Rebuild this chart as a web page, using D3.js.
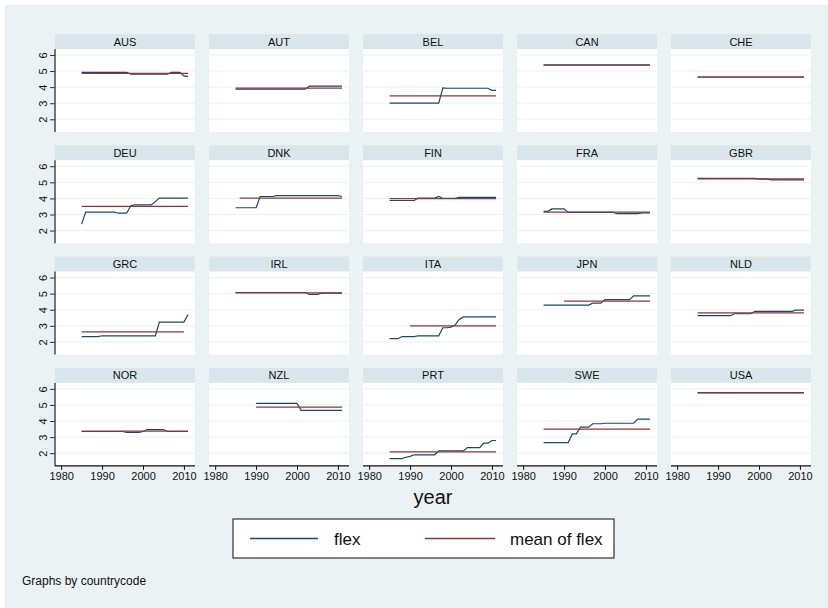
<!DOCTYPE html>
<html>
<head>
<meta charset="utf-8">
<script src="https://cdn.jsdelivr.net/npm/d3@7"></script>
<style>
  body { margin: 0; background: #fff; }
  svg { display: block; font-family: "Liberation Sans", Arial, sans-serif; }
</style>
</head>
<body>
<svg id="chart" width="828" height="608"></svg>
<script>
// countries in panel order
const countries = ["AUS", "AUT", "BEL", "CAN", "CHE",
                   "DEU", "DNK", "FIN", "FRA", "GBR",
                   "GRC", "IRL", "ITA", "JPN", "NLD",
                   "NOR", "NZL", "PRT", "SWE", "USA"];

// first year of each flex series (yearly values follow)
const flexStart = [1985, 1985, 1985, 1985, 1985,
                   1985, 1985, 1985, 1985, 1985,
                   1985, 1985, 1985, 1985, 1985,
                   1985, 1990, 1985, 1985, 1985];

const flexValues = [
  // AUS
  [4.92,4.92,4.92,4.92,4.92,4.92,4.92,4.92,4.92,4.92,4.92,4.92,4.81,4.81,4.81,4.81,4.81,4.81,4.81,4.81,4.81,4.81,4.92,4.92,4.92,4.70,4.65],
  // AUT
  [3.87,3.87,3.87,3.87,3.87,3.87,3.87,3.87,3.87,3.87,3.87,3.87,3.87,3.87,3.87,3.87,3.87,3.87,4.06,4.06,4.06,4.06,4.06,4.06,4.06,4.06,4.06],
  // BEL
  [3.00,3.00,3.00,3.00,3.00,3.00,3.00,3.00,3.00,3.00,3.00,3.00,3.00,3.95,3.93,3.93,3.93,3.93,3.93,3.93,3.93,3.93,3.93,3.93,3.93,3.80,3.80],
  // CAN
  [5.38,5.38,5.38,5.38,5.38,5.38,5.38,5.38,5.38,5.38,5.38,5.38,5.38,5.38,5.38,5.38,5.38,5.38,5.38,5.38,5.38,5.38,5.38,5.38,5.38,5.38,5.38],
  // CHE
  [4.63,4.63,4.63,4.63,4.63,4.63,4.63,4.63,4.63,4.63,4.63,4.63,4.63,4.63,4.63,4.63,4.63,4.63,4.63,4.63,4.63,4.63,4.63,4.63,4.63,4.63,4.63],
  // DEU
  [2.40,3.15,3.15,3.15,3.15,3.15,3.15,3.15,3.15,3.08,3.08,3.08,3.55,3.60,3.60,3.60,3.60,3.60,3.80,4.02,4.02,4.02,4.02,4.02,4.02,4.02,4.02],
  // DNK
  [3.42,3.42,3.42,3.42,3.42,3.42,4.12,4.12,4.12,4.12,4.17,4.17,4.17,4.17,4.17,4.17,4.17,4.17,4.17,4.17,4.17,4.17,4.17,4.17,4.17,4.17,4.12],
  // FIN
  [3.87,3.87,3.87,3.87,3.87,3.87,3.87,4.02,4.02,4.02,4.02,4.02,4.12,4.00,4.00,4.00,4.00,4.07,4.07,4.07,4.07,4.07,4.07,4.07,4.07,4.07,4.07],
  // FRA
  [3.20,3.20,3.35,3.35,3.35,3.35,3.13,3.13,3.13,3.13,3.13,3.13,3.13,3.13,3.13,3.13,3.13,3.13,3.05,3.05,3.05,3.05,3.05,3.05,3.10,3.10,3.10],
  // GBR
  [5.25,5.25,5.25,5.25,5.25,5.25,5.25,5.25,5.25,5.25,5.25,5.25,5.25,5.25,5.25,5.20,5.20,5.20,5.15,5.15,5.15,5.15,5.15,5.15,5.15,5.15,5.15],
  // GRC
  [2.33,2.33,2.33,2.33,2.33,2.38,2.38,2.38,2.38,2.38,2.38,2.38,2.38,2.38,2.38,2.38,2.38,2.38,2.38,3.23,3.23,3.23,3.23,3.23,3.23,3.23,3.70],
  // IRL
  [5.07,5.07,5.07,5.07,5.07,5.07,5.07,5.07,5.07,5.07,5.07,5.07,5.07,5.07,5.07,5.07,5.07,5.07,4.95,4.95,4.95,5.03,5.03,5.03,5.03,5.03,5.03],
  // ITA
  [2.20,2.20,2.20,2.33,2.33,2.33,2.33,2.38,2.38,2.38,2.38,2.38,2.38,2.88,2.88,2.92,3.05,3.40,3.55,3.55,3.55,3.55,3.55,3.55,3.55,3.55,3.55],
  // JPN
  [4.29,4.29,4.29,4.29,4.29,4.29,4.29,4.29,4.29,4.29,4.29,4.29,4.41,4.41,4.41,4.63,4.63,4.63,4.63,4.63,4.63,4.63,4.86,4.86,4.86,4.86,4.86],
  // NLD
  [3.63,3.63,3.63,3.63,3.63,3.63,3.63,3.63,3.63,3.75,3.75,3.75,3.75,3.75,3.90,3.90,3.90,3.90,3.90,3.90,3.90,3.90,3.90,3.90,3.97,3.97,3.97],
  // NOR
  [3.35,3.35,3.35,3.35,3.35,3.35,3.35,3.35,3.35,3.35,3.35,3.30,3.30,3.30,3.30,3.35,3.47,3.47,3.47,3.47,3.47,3.35,3.35,3.35,3.35,3.35,3.35],
  // NZL (from 1990)
  [5.10,5.10,5.10,5.10,5.10,5.10,5.10,5.10,5.10,5.10,5.10,4.66,4.66,4.66,4.66,4.66,4.66,4.66,4.66,4.66,4.66,4.66],
  // PRT
  [1.66,1.66,1.66,1.66,1.75,1.80,1.90,1.90,1.90,1.90,1.90,1.90,2.14,2.14,2.14,2.14,2.14,2.14,2.14,2.35,2.35,2.35,2.35,2.62,2.62,2.79,2.79],
  // SWE
  [2.66,2.66,2.66,2.66,2.66,2.66,2.66,3.20,3.20,3.62,3.62,3.62,3.83,3.83,3.83,3.86,3.86,3.86,3.86,3.86,3.86,3.86,3.86,4.12,4.12,4.12,4.12],
  // USA
  [5.76,5.76,5.76,5.76,5.76,5.76,5.76,5.76,5.76,5.76,5.76,5.76,5.76,5.76,5.76,5.76,5.76,5.76,5.76,5.76,5.76,5.76,5.76,5.76,5.76,5.76,5.76]
];

// mean of flex per country and the years it spans
const meanValues = [4.85, 3.94, 3.45, 5.36, 4.62,
                    3.50, 4.02, 3.99, 3.15, 5.22,
                    2.62, 5.05, 3.00, 4.54, 3.81,
                    3.37, 4.87, 2.08, 3.50, 5.75];
const meanStart = [1985, 1985, 1985, 1985, 1985,
                   1985, 1986, 1985, 1985, 1985,
                   1985, 1985, 1990, 1990, 1985,
                   1985, 1990, 1985, 1985, 1985];
const meanEnd = [2011, 2011, 2011, 2011, 2011,
                 2011, 2011, 2011, 2011, 2011,
                 2010, 2011, 2011, 2011, 2011,
                 2011, 2011, 2011, 2011, 2011];

const xTicks = [1980, 1990, 2000, 2010];
const yTicks = [2, 3, 4, 5, 6];

const svg = d3.select("#chart");
const bg = "#eaf2f3";
const flexColor = "#1a476f";
const meanColor = "#90353b";

svg.append("rect").attr("x", 5).attr("y", 5).attr("width", 823).attr("height", 603)
  .attr("fill", bg);

let cols = 5;
let pw = 140, ph = 83, stripH = 15;
let colStep = 154, rowStep = 111.3;
let left0 = 55, top0 = 34;

var x = d3.scaleLinear().domain([1978.5, 2012.7]).range([0, pw]);
var y = d3.scaleLinear().domain([1.21, 6.37]).range([ph, 0]);

var line = d3.line()
  .x(function (d) { return x(d[0]); })
  .y(function (d) { return y(d[1]); });

for (var i = 0; i < countries.length; i++) {
  let c = i % cols;
  let r = Math.floor(i / cols);
  let g = svg.append("g")
    .attr("transform", "translate(" + (left0 + c * colStep) + "," + (top0 + r * rowStep) + ")");

  // strip
  g.append("rect").attr("width", pw).attr("height", stripH).attr("fill", "#d9e6eb");
  g.append("text")
    .attr("x", pw / 2).attr("y", stripH / 2 + 4)
    .attr("text-anchor", "middle")
    .attr("font-size", 11)
    .attr("fill", "#111")
    .text(countries[i]);

  let p = g.append("g").attr("transform", "translate(0," + stripH + ")");
  p.append("rect").attr("width", pw).attr("height", ph).attr("fill", "#fff");

  p.selectAll("line.grid")
    .data(yTicks)
    .enter()
    .append("line")
    .attr("class", "grid")
    .attr("x1", 0).attr("x2", pw)
    .attr("y1", function (d) { return y(d); })
    .attr("y2", function (d) { return y(d); })
    .attr("stroke", bg)
    .attr("stroke-width", 1);

  // series
  let pts = [];
  for (var k = 0; k < flexValues[i].length; k++) {
    pts.push([flexStart[i] + k, flexValues[i][k]]);
  }
  let meanPts = [[meanStart[i], meanValues[i]], [meanEnd[i], meanValues[i]]];

  p.append("path").datum(pts).attr("d", line)
    .attr("fill", "none").attr("stroke", flexColor).attr("stroke-width", 1.2);
  p.append("path").datum(meanPts).attr("d", line)
    .attr("fill", "none").attr("stroke", meanColor).attr("stroke-width", 1.2);

  if (c === 0) {
    let ya = p.append("g")
      .call(d3.axisLeft(y).tickValues(yTicks).tickFormat(d3.format("d")).tickSize(5));
    ya.select(".domain").attr("stroke", "#555").attr("stroke-width", 1.6)
      .attr("d", "M0,0V" + ph);
    ya.selectAll(".tick line").attr("stroke", "#333");
    ya.selectAll(".tick text")
      .attr("font-size", 11).attr("font-family", "Liberation Sans, Arial, sans-serif")
      .attr("fill", "#111")
      .attr("transform", "rotate(-90)")
      .attr("x", 0).attr("y", -8)
      .attr("dy", "0")
      .attr("text-anchor", "middle");
  }
  if (r === 3) {
    let xa = p.append("g").attr("transform", "translate(0," + ph + ")")
      .call(d3.axisBottom(x).tickValues(xTicks).tickFormat(d3.format("d")).tickSize(4).tickPadding(2));
    xa.select(".domain").attr("stroke", "#111").attr("stroke-width", 1.4)
      .attr("d", "M0,0H" + pw);
    xa.selectAll(".tick line").attr("stroke", "#111");
    xa.selectAll(".tick text")
      .attr("font-size", 11).attr("font-family", "Liberation Sans, Arial, sans-serif")
      .attr("fill", "#111");
  }
}

// axis title
svg.append("text").attr("x", 433).attr("y", 504)
  .attr("text-anchor", "middle").attr("font-size", 20).attr("fill", "#111")
  .text("year");

// legend
let lg = svg.append("g").attr("transform", "translate(233,519)");
lg.append("rect").attr("width", 381).attr("height", 39)
  .attr("fill", "#fff").attr("stroke", "#333").attr("stroke-width", 1.2);
lg.append("line").attr("x1", 17).attr("x2", 85).attr("y1", 19.5).attr("y2", 19.5)
  .attr("stroke", flexColor).attr("stroke-width", 1.4);
lg.append("text").attr("x", 101).attr("y", 26).attr("font-size", 17).attr("fill", "#111").text("flex");
lg.append("line").attr("x1", 192).attr("x2", 262).attr("y1", 19.5).attr("y2", 19.5)
  .attr("stroke", meanColor).attr("stroke-width", 1.4);
lg.append("text").attr("x", 277).attr("y", 26).attr("font-size", 17).attr("fill", "#111").text("mean of flex");

svg.append("text").attr("x", 22).attr("y", 585).attr("font-size", 12).attr("fill", "#111")
  .text("Graphs by countrycode");
</script>
</body>
</html>
